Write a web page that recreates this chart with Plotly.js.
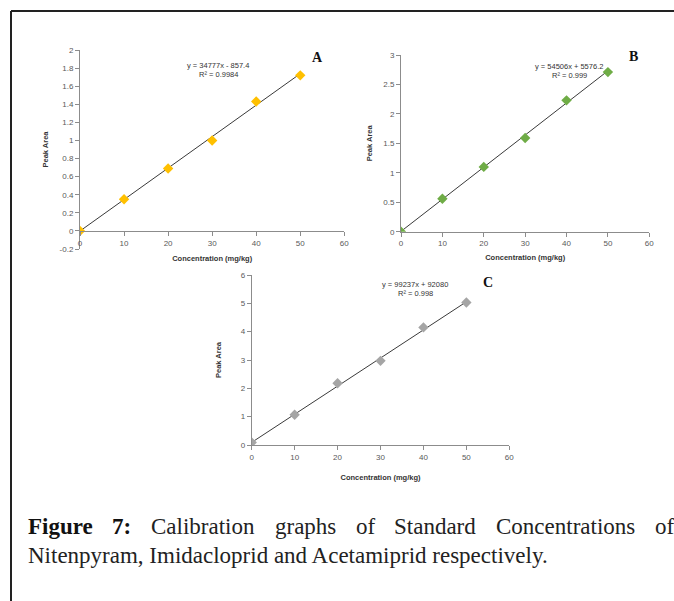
<!DOCTYPE html>
<html>
<head>
<meta charset="utf-8">
<script src="https://cdn.plot.ly/plotly-3.0.1.min.js"></script>
<style>html,body{margin:0;padding:0;background:#fff;}#chart{width:674px;height:601px;}</style>
</head>
<body>
<div id="chart"></div>
<script>
// ---- data ----
const concentration = [0, 10, 20, 30, 40, 50];
const peakAreaA = [0, 0.35, 0.69, 1.00, 1.43, 1.72];   // Nitenpyram (x10^6)
const peakAreaB = [0, 0.56, 1.10, 1.59, 2.23, 2.71];   // Imidacloprid (x10^6)
const peakAreaC = [0.09, 1.07, 2.18, 2.97, 4.15, 5.03]; // Acetamiprid (x10^6)
const fitSlope = [34777, 54506, 99237];
const fitIntercept = [-857.4, 5576.2, 92080];
const fitLabels = ["y = 34777x - 857.4", "y = 54506x + 5576.2", "y = 99237x + 92080"];
const r2Labels = ["R\u00b2 = 0.9984", "R\u00b2 = 0.999", "R\u00b2 = 0.998"];
const panelLetters = ["A", "B", "C"];
const xTicks = [0, 10, 20, 30, 40, 50, 60];
const yTicksA = [-0.2, 0, 0.2, 0.4, 0.6, 0.8, 1, 1.2, 1.4, 1.6, 1.8, 2];
const yTickTextA = ["-0.2", "0", "0.2", "0.4", "0.6", "0.8", "1", "1.2", "1.4", "1.6", "1.8", "2"];
const fitRange = [0, 50];
const scale = 1e6;
const captionLine1 = ["Figure", "7:", "Calibration", "graphs", "of", "Standard", "Concentrations", "of"];
const captionLine2 = "Nitenpyram, Imidacloprid and Acetamiprid respectively.";
const xTitle = "Concentration (mg/kg)";
const yTitle = "Peak Area";

// ---- helpers ----
const W = 674, H = 601;
const fx = p => p / W;
const fy = p => 1 - p / H;
const colors = ["#FFC000", "#6FAC46", "#A5A5A5"];
const sans = "Liberation Sans, Arial, sans-serif";
const tickFont = {family: sans, size: 8, color: "#595959"};
const titleFont = {family: sans, size: 7.5, color: "#333", weight: "bold"};
const axisBase = {
  showgrid: false, zeroline: false, showline: true, linecolor: "#8c8c8c", linewidth: 1,
  ticks: "outside", ticklen: 4, tickcolor: "#8c8c8c", tickfont: tickFont, fixedrange: true
};
const ax = (extra) => Object.assign({}, axisBase, extra);

const series = [peakAreaA, peakAreaB, peakAreaC];
const traces = [];
series.forEach((ys, i) => {
  const xa = i === 0 ? "x" : "x" + (i + 1);
  const ya = i === 0 ? "y" : "y" + (i + 1);
  traces.push({
    x: fitRange, y: fitRange.map(x => (fitSlope[i] * x + fitIntercept[i]) / scale),
    xaxis: xa, yaxis: ya, mode: "lines", line: {color: "#3a3a3a", width: 1}, hoverinfo: "skip"
  });
  traces.push({
    x: concentration, y: ys, xaxis: xa, yaxis: ya, mode: "markers",
    marker: {symbol: "diamond", size: 8, color: colors[i], line: {width: 0}}
  });
});

const annotations = [];
const eqPos = [[218, 65, 74], [569, 66, 75], [415, 284, 293]];
const letterPos = [[317, 57], [633, 56], [488, 282]];
const eqFont = {family: sans, size: 7.5, color: "#333"};
for (let i = 0; i < 3; i++) {
  annotations.push({xref: "paper", yref: "paper", x: fx(eqPos[i][0]), y: fy(eqPos[i][1]), text: fitLabels[i],
    showarrow: false, xanchor: "center", yanchor: "middle", font: eqFont});
  annotations.push({xref: "paper", yref: "paper", x: fx(eqPos[i][0]), y: fy(eqPos[i][2]), text: r2Labels[i],
    showarrow: false, xanchor: "center", yanchor: "middle", font: eqFont});
  annotations.push({xref: "paper", yref: "paper", x: fx(letterPos[i][0]), y: fy(letterPos[i][1]), text: panelLetters[i],
    showarrow: false, xanchor: "center", yanchor: "middle", font: {family: "Liberation Serif, serif", size: 14, color: "#111", weight: "bold"}});
}
// caption (line 1 justified between left and right text edges)
const capSize = 23;
const capFont = {family: "Liberation Serif, serif", size: capSize, color: "#222"};
const textLeft = 26, textRight = 672;
const ctx = document.createElement("canvas").getContext("2d");
const widths = captionLine1.map((w, k) => {
  ctx.font = (k < 2 ? "bold " : "") + capSize + "px 'Liberation Serif'";
  return ctx.measureText(w).width;
});
const gap = (textRight - textLeft - widths.reduce((a, b) => a + b, 0)) / (captionLine1.length - 1);
let cursor = textLeft;
captionLine1.forEach((w, k) => {
  annotations.push({xref: "paper", yref: "paper", x: fx(cursor), y: fy(526), text: w, showarrow: false,
    xanchor: "left", yanchor: "middle",
    font: Object.assign({}, capFont, k < 2 ? {weight: "bold", color: "#111"} : {})});
  cursor += widths[k] + gap;
});
annotations.push({xref: "paper", yref: "paper", x: fx(textLeft), y: fy(555), text: captionLine2, showarrow: false,
  xanchor: "left", yanchor: "middle", font: capFont});

const layout = {
  width: W, height: H, margin: {l: 0, r: 0, t: 0, b: 0},
  paper_bgcolor: "#fff", plot_bgcolor: "rgba(0,0,0,0)", showlegend: false,
  xaxis: ax({domain: [fx(80), fx(344.3)], range: [0, 60], tickvals: xTicks, anchor: "free", position: fy(231),
    title: {text: xTitle, font: titleFont, standoff: 9}}),
  yaxis: ax({domain: [fy(249), fy(50)], range: [-0.2, 2], tickvals: yTicksA, ticktext: yTickTextA, anchor: "x",
    title: {text: yTitle, font: titleFont, standoff: 9}}),
  xaxis2: ax({domain: [fx(401), fx(649.3)], range: [0, 60], tickvals: xTicks, anchor: "y2",
    title: {text: xTitle, font: titleFont, standoff: 7}}),
  yaxis2: ax({domain: [fy(231.7), fy(55)], range: [0, 3], dtick: 0.5, anchor: "x2",
    title: {text: yTitle, font: titleFont, standoff: 9}}),
  xaxis3: ax({domain: [fx(251.7), fx(509.3)], range: [0, 60], tickvals: xTicks, anchor: "y3",
    title: {text: xTitle, font: titleFont, standoff: 14}}),
  yaxis3: ax({domain: [fy(445), fy(275)], range: [0, 6], dtick: 1, anchor: "x3",
    title: {text: yTitle, font: titleFont, standoff: 18}}),
  annotations: annotations,
  shapes: [
    {type: "line", xref: "paper", yref: "paper", x0: fx(11), x1: 1.01, y0: fy(11), y1: fy(11), line: {color: "#222", width: 2}},
    {type: "line", xref: "paper", yref: "paper", x0: fx(11), x1: fx(11), y0: fy(11), y1: -0.01, line: {color: "#222", width: 2}}
  ]
};
document.fonts.load(capSize + "px 'Liberation Serif'").then(() => {}).finally(() => {});
Plotly.newPlot("chart", traces, layout, {displayModeBar: false, staticPlot: true});
</script>
</body>
</html>
